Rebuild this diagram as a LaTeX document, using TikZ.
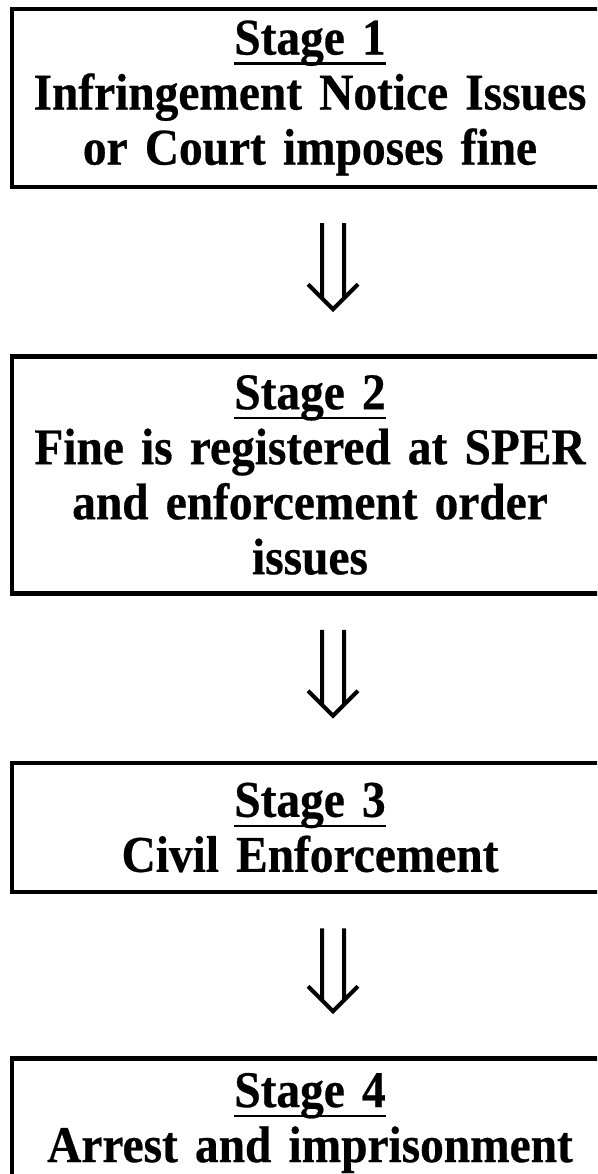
\documentclass[tikz,border=0pt]{standalone}
\usepackage{fontspec}
\setmainfont{Liberation Serif}[FakeStretch=0.92, WordSpace=0.75, FakeBold=0.5]
\usetikzlibrary{shapes, arrows, positioning}

\newcommand{\stagehead}[1]{\setbox0\hbox{#1}\rlap{\rule[-10pt]{\wd0}{2.2pt}}\box0}

\begin{document}
\begin{tikzpicture}
            \tikzstyle{stage}=[draw, line width=4.5pt, inner sep=0pt, text width=596pt, align=center, font={\fontsize{51.5}{55}\selectfont\bfseries}, node distance=165pt]
            \tikzstyle{thus}=[line width=4pt, line join=miter, to path={
                ([xshift=12pt,yshift=-34pt]\tikztostart) -- ([xshift=12pt,yshift=55pt]\tikztotarget)
                ([xshift=34pt,yshift=-34pt]\tikztostart) -- ([xshift=34pt,yshift=55pt]\tikztotarget)
                ([xshift=-2pt,yshift=70pt]\tikztotarget) -- ([xshift=23pt,yshift=45pt]\tikztotarget) -- ([xshift=48pt,yshift=70pt]\tikztotarget)}]
            \useasboundingbox (0,0) rectangle (597pt,-1174pt);
            \clip (0,0) rectangle (597pt,-1174pt);
            \node[stage, minimum height=178pt] (s1) at (310pt,-98pt) {\stagehead{Stage 1}\\Infringement Notice Issues\\or Court imposes fine};
            \node[stage, minimum height=237pt, below=of s1] (s2) {\stagehead{Stage 2}\\Fine is registered at SPER\\and enforcement order\\issues};
            \node[stage, minimum height=129pt, below=of s2] (s3) {\stagehead{Stage 3}\\Civil Enforcement};
            \node[stage, minimum height=129pt, below=of s3, yshift=3pt] (s4) {\stagehead{Stage 4}\\Arrest and imprisonment};
            \draw[thus] (s1.south) to (s2.north);
            \draw[thus] (s2.south) to (s3.north);
            \draw[thus] (s3.south) to (s4.north);
\end{tikzpicture}
\end{document}
